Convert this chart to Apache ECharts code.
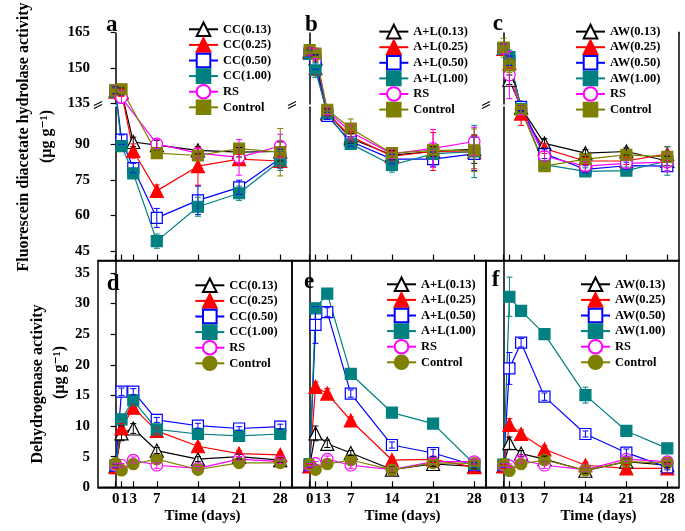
<!DOCTYPE html>
<html><head><meta charset="utf-8">
<script src="https://cdn.jsdelivr.net/npm/echarts@6/dist/echarts.min.js"></script>
<style>html,body{margin:0;padding:0;background:#fff}#c{width:685px;height:531px}</style>
</head><body><div id="c"></div><script>
// ---------- DATA ----------
const days = [0, 1, 3, 7, 14, 21, 28];
const xTicks = [0, 1, 3, 7, 14, 21, 28];
const fdaTicks = [45, 60, 75, 90, 135, 150, 165];
const dhaTicks = [0, 5, 10, 15, 20, 25, 30, 35];

const ccNames = ['CC(0.13)', 'CC(0.25)', 'CC(0.50)', 'CC(1.00)', 'RS', 'Control'];
const alNames = ['A+L(0.13)', 'A+L(0.25)', 'A+L(0.50)', 'A+L(1.00)', 'RS', 'Control'];
const awNames = ['AW(0.13)', 'AW(0.25)', 'AW(0.50)', 'AW(1.00)', 'RS', 'Control'];

// (a) FDA, CC
const fdaCC013 = [140.5, 140, 91, 89.7, 87.5, 86.7, 87];
const fdaCC025 = [140, 139.5, 87.2, 70.4, 80.8, 83.8, 83];
const fdaCC050 = [140.5, 92, 80, 59, 66.4, 71.9, 84];
const fdaCC100 = [140, 89.3, 77.8, 49.2, 63.7, 69.4, 83];
const fdaCCRS = [140.5, 137.5, null, 90.2, 86.3, 84.5, 89.3];
const fdaCCCtrl = [140.5, 141, null, 86.3, 85.3, 88.2, 86.7];
const fdaCC013Err = [1.5, 1.5, 2, 2, 1.5, 2, 4];
const fdaCC025Err = [1.5, 1.5, 3, 2.5, 8, 2, 2];
const fdaCC050Err = [1.5, 2, 2, 4, 6, 3, 4];
const fdaCC100Err = [1.5, 2, 2, 3, 4, 3, 4];
const fdaCCRSErr = [2, 3, 0, 2, 2, 7.5, 5];
const fdaCCCtrlErr = [2, 2, 0, 1.5, 2, 2, 10];

// (b) FDA, A+L
const fdaAL013 = [157, 154, 103.5, 92.5, 85.5, 87, 88];
const fdaAL025 = [156.5, 150, 103, 93.4, 85, 87, 86.7];
const fdaAL050 = [156, 152.4, 102, 91.2, 83.8, 83.8, 86];
const fdaAL100 = [156, 149, 103, 90.2, 81.3, 86, 87];
const fdaALRS = [157, 156, 104, 95.2, 86, 88.3, 91.2];
const fdaALCtrl = [157.5, 156, 104.6, 96.7, 86.3, 87.5, 87.5];
const fdaAL013Err = [1.5, 1.5, 1.5, 2, 2, 2, 6];
const fdaAL025Err = [1.5, 3, 1.5, 2, 2, 8, 7];
const fdaAL050Err = [1.5, 3, 1.5, 2, 2, 3, 7];
const fdaAL100Err = [1.5, 3, 1.5, 2, 3, 2, 11];
const fdaALRSErr = [1.5, 2, 1.5, 3, 2, 8, 6];
const fdaALCtrlErr = [1.5, 1.5, 1.5, 4, 2, 2, 9];

// (c) FDA, AW
const fdaAW013 = [158, 145, 105.5, 90.4, 86.3, 87, 83];
const fdaAW025 = [158, 152, 103, 88.2, 83, 83, 86];
const fdaAW050 = [158, 153, 105.8, 86, 79.5, 81, 80.8];
const fdaAW100 = [158, 154.5, 105, 81.5, 78.6, 78.9, 83];
const fdaAWRS = [158, 147, 104.5, 85, 80.8, 82, 82.5];
const fdaAWCtrl = [158.5, 151, 104.6, 80.8, 83.8, 85.6, 84.7];
const fdaAW013Err = [2, 2, 1.5, 2, 1.5, 1.5, 2];
const fdaAW025Err = [2, 2, 5, 2, 1.5, 1.5, 3];
const fdaAW050Err = [2, 2, 1.5, 2, 1.5, 1.5, 2];
const fdaAW100Err = [2, 3, 1.5, 1.5, 1.5, 1.5, 6];
const fdaAWRSErr = [2, 10, 2, 2, 2, 2, 4];
const fdaAWCtrlErr = [4, 3, 1.5, 1.5, 1.5, 1.5, 2];

// (d) DHA, CC
const dhaCC013 = [3.5, 8.8, 9.6, 6.0, 4.6, 5.0, 4.45];
const dhaCC025 = [3.3, 9.6, 13.0, 9.2, 6.7, 5.5, 5.3];
const dhaCC050 = [3.5, 15.6, 15.6, 11.0, 10.05, 9.6, 9.9];
const dhaCC100 = [3.6, 11.1, 14.2, 9.45, 8.7, 8.4, 8.7];
const dhaCCRS = [3.6, 3.6, 4.45, 3.6, 3.1, 4.6, 4.2];
const dhaCCCtrl = [3.9, 2.8, 3.8, 4.6, 2.9, 4.0, 4.0];
const dhaCC013Err = [0.3, 1.2, 0.8, 0.5, 0.4, 0.4, 0.4];
const dhaCC025Err = [0.3, 0.8, 0.6, 0.5, 0.5, 0.5, 0.5];
const dhaCC050Err = [0.3, 0.6, 0.5, 0.4, 0.4, 0.3, 0.4];
const dhaCC100Err = [0.3, 0.5, 0.6, 0.4, 0.3, 0.3, 0.3];
const dhaCCRSErr = [0.3, 0.3, 0.5, 0.5, 0.3, 0.4, 0.3];
const dhaCCCtrlErr = [0.3, 0.3, 0.4, 0.4, 0.3, 0.3, 0.3];

// (e) DHA, A+L
const dhaAL013 = [3.5, 8.8, 7.1, 5.6, 2.9, 3.8, 3.4];
const dhaAL025 = [3.4, 16.4, 15.3, 10.9, 4.45, 4.55, 3.3];
const dhaAL050 = [3.6, 26.5, 28.6, 15.3, 6.9, 5.6, 3.6];
const dhaAL100 = [3.8, 29.2, 31.6, 18.5, 12.2, 10.4, 3.8];
const dhaALRS = [3.6, 3.9, 4.6, 3.6, 2.9, 4.2, 4.2];
const dhaALCtrl = [3.8, 2.9, 3.8, 4.45, 2.85, 4.0, 3.9];
const dhaAL013Err = [0.3, 1.2, 0.6, 0.4, 0.4, 0.4, 0.4];
const dhaAL025Err = [0.3, 0.8, 0.8, 0.6, 0.5, 0.5, 1.0];
const dhaAL050Err = [0.3, 3.0, 0.7, 0.6, 0.5, 0.6, 0.4];
const dhaAL100Err = [0.3, 0.6, 0.5, 0.4, 0.4, 0.4, 0.5];
const dhaALRSErr = [0.3, 0.3, 0.5, 0.5, 0.3, 0.5, 0.4];
const dhaALCtrlErr = [0.3, 0.3, 0.4, 0.4, 0.3, 0.3, 0.4];

// (f) DHA, AW
const dhaAW013 = [3.5, 7.2, 5.5, 4.6, 2.7, 4.2, 3.6];
const dhaAW025 = [3.4, 10.2, 8.7, 6.2, 3.6, 3.1, 3.1];
const dhaAW050 = [3.6, 19.4, 23.6, 14.8, 8.7, 5.65, 3.25];
const dhaAW100 = [3.7, 31.1, 28.8, 25.0, 15.05, 9.2, 6.35];
const dhaAWRS = [3.6, 3.5, 4.45, 3.6, 2.9, 4.6, 4.2];
const dhaAWCtrl = [3.8, 2.7, 3.8, 4.45, 2.8, 4.2, 4.0];
const dhaAW013Err = [0.3, 1.0, 0.5, 0.5, 0.4, 0.4, 0.4];
const dhaAW025Err = [0.3, 1.0, 0.7, 0.6, 0.5, 0.6, 0.8];
const dhaAW050Err = [0.3, 2.6, 0.7, 0.6, 0.5, 0.6, 0.4];
const dhaAW100Err = [0.3, 3.2, 0.7, 0.4, 1.3, 0.4, 0.4];
const dhaAWRSErr = [0.3, 0.3, 0.5, 0.5, 0.3, 0.4, 0.4];
const dhaAWCtrlErr = [0.3, 0.3, 0.4, 0.4, 0.3, 0.3, 0.4];

// ---------- LAYOUT / STYLE ----------
const SERIF = '"Liberation Serif","Times New Roman","DejaVu Serif",serif';
const colLeft = [98, 292, 486], colWidth = [194, 194, 193];
const rowTop = [32.3, 260.6], rowHeight = [228.3, 226.7];

const markStyles = [
  { color: '#000000', symbol: 'triangle', size: 13, open: true },
  { color: '#ff0000', symbol: 'triangle', size: 13, open: false },
  { color: '#0000ff', symbol: 'rect', size: 11, open: true },
  { color: '#008080', symbol: 'rect', size: 11, open: false },
  { color: '#ff00ff', symbol: 'circle', size: 11, open: true },
  { color: '#808000', symbol: 'rect', size: 11, open: false }
];

const panels = [
  { key: 'a', row: 0, col: 0, names: ccNames,
    vals: [fdaCC013, fdaCC025, fdaCC050, fdaCC100, fdaCCRS, fdaCCCtrl],
    errs: [fdaCC013Err, fdaCC025Err, fdaCC050Err, fdaCC100Err, fdaCCRSErr, fdaCCCtrlErr],
    legend: [188, 21.5], letter: [106, 26] },
  { key: 'b', row: 0, col: 1, names: alNames,
    vals: [fdaAL013, fdaAL025, fdaAL050, fdaAL100, fdaALRS, fdaALCtrl],
    errs: [fdaAL013Err, fdaAL025Err, fdaAL050Err, fdaAL100Err, fdaALRSErr, fdaALCtrlErr],
    legend: [378.3, 23.8], letter: [305, 26] },
  { key: 'c', row: 0, col: 2, names: awNames,
    vals: [fdaAW013, fdaAW025, fdaAW050, fdaAW100, fdaAWRS, fdaAWCtrl],
    errs: [fdaAW013Err, fdaAW025Err, fdaAW050Err, fdaAW100Err, fdaAWRSErr, fdaAWCtrlErr],
    legend: [575, 23.8], letter: [492.7, 25] },
  { key: 'd', row: 1, col: 0, names: ccNames,
    vals: [dhaCC013, dhaCC025, dhaCC050, dhaCC100, dhaCCRS, dhaCCCtrl],
    errs: [dhaCC013Err, dhaCC025Err, dhaCC050Err, dhaCC100Err, dhaCCRSErr, dhaCCCtrlErr],
    legend: [194.3, 277.5], letter: [106.7, 285], titlePad: 15 },
  { key: 'e', row: 1, col: 1, names: alNames,
    vals: [dhaAL013, dhaAL025, dhaAL050, dhaAL100, dhaALRS, dhaALCtrl],
    errs: [dhaAL013Err, dhaAL025Err, dhaAL050Err, dhaAL100Err, dhaALRSErr, dhaALCtrlErr],
    legend: [386, 276.5], letter: [304, 283], titlePad: 27 },
  { key: 'f', row: 1, col: 2, names: awNames,
    vals: [dhaAW013, dhaAW025, dhaAW050, dhaAW100, dhaAWRS, dhaAWCtrl],
    errs: [dhaAW013Err, dhaAW025Err, dhaAW050Err, dhaAW100Err, dhaAWRSErr, dhaAWCtrlErr],
    legend: [580, 276.5], letter: [491.7, 281], titlePad: 32 }
];

function renderErr(params, api) {
  const x = api.value(0), y = api.value(1), e = api.value(2);
  if (!e) return null;
  const hi = api.coord([x, y + e]), lo = api.coord([x, y - e]);
  const w = 3;
  const style = { stroke: api.visual('color'), lineWidth: 1, fill: null };
  return { type: 'group', children: [
    { type: 'line', shape: { x1: hi[0], y1: hi[1], x2: lo[0], y2: lo[1] }, style },
    { type: 'line', shape: { x1: hi[0] - w, y1: hi[1], x2: hi[0] + w, y2: hi[1] }, style },
    { type: 'line', shape: { x1: lo[0] - w, y1: lo[1], x2: lo[0] + w, y2: lo[1] }, style }
  ] };
}

const labelFont = { color: '#000', fontFamily: SERIF, fontWeight: 'bold', fontSize: 15 };
const grids = [], xAxes = [], yAxes = [], series = [], legends = [], graphics = [];

panels.forEach((p, i) => {
  const top = p.row === 0;
  grids.push({ left: colLeft[p.col], top: rowTop[p.row], width: colWidth[p.col], height: rowHeight[p.row],
    show: !top, borderColor: '#000', borderWidth: 1.5, backgroundColor: 'transparent',
    containLabel: false, outerBoundsMode: 'none' });
  xAxes.push({
    type: 'value', gridIndex: i, min: -3, max: 30, position: 'bottom',
    axisLine: { show: true, onZero: false, lineStyle: { color: '#000', width: 1.5 } },
    axisTick: { show: true, inside: true, length: 6, customValues: xTicks, lineStyle: { color: '#000', width: 1.2 } },
    axisLabel: Object.assign({ show: !top, customValues: xTicks, margin: 4, hideOverlap: false,
      formatter: v => v === 1 ? '{r|1}' : String(v),
      rich: { r: Object.assign({ padding: [0, 0, 0, 6] }, labelFont) } }, labelFont),
    splitLine: { show: false },
    name: top ? '' : 'Time (days)', nameLocation: 'middle', nameGap: 21,
    nameTextStyle: Object.assign({ padding: [0, 0, 0, p.titlePad || 0] }, labelFont)
  });
  if (top) {
    yAxes.push({
      type: 'value', gridIndex: i, min: 41, max: 165,
      breaks: [{ start: 106, end: 135, gap: '1.3%' }],
      breakArea: { show: false },
      axisLine: { show: true, lineStyle: { color: '#000', width: 1.5 } },
      axisTick: { show: p.col === 0, inside: false, length: 5, customValues: fdaTicks, lineStyle: { color: '#000', width: 1.2 } },
      axisLabel: Object.assign({ show: p.col === 0, customValues: fdaTicks, margin: 8 }, labelFont),
      splitLine: { show: false }
    });
  } else {
    yAxes.push({
      type: 'value', gridIndex: i, min: 0, max: 37,
      axisLine: { show: true, lineStyle: { color: '#000', width: 1.5 } },
      axisTick: { show: p.col === 0, inside: false, length: 5, customValues: dhaTicks, lineStyle: { color: '#000', width: 1.2 } },
      axisLabel: Object.assign({ show: p.col === 0, customValues: dhaTicks, margin: 8 }, labelFont),
      splitLine: { show: false }
    });
  }
  const legendNames = [];
  p.names.forEach((nm, k) => {
    const st = markStyles[k];
    const sym = (k === 5 && !top) ? 'circle' : st.symbol;
    const full = nm + '#' + p.key;
    legendNames.push(full);
    const pts = [], errPts = [];
    p.vals[k].forEach((v, j) => {
      if (v === null) return;
      pts.push([days[j], v]);
      errPts.push([days[j], v, p.errs[k][j]]);
    });
    series.push({
      type: 'line', name: full, xAxisIndex: i, yAxisIndex: i, z: 3,
      data: pts, symbol: sym, symbolSize: sym === 'triangle' ? st.size : (sym === 'circle' ? 11.5 : st.size),
      showSymbol: true, showAllSymbol: true, connectNulls: true,
      itemStyle: { color: st.open ? '#ffffff' : st.color, borderColor: st.color, borderWidth: 1.2, opacity: 1 },
      lineStyle: { color: st.color, width: 1.2 },
      animation: false, silent: true, emphasis: { disabled: true }
    });
    series.push({
      type: 'custom', name: 'err' + p.key + k, xAxisIndex: i, yAxisIndex: i, z: 4,
      data: errPts, renderItem: renderErr, encode: { x: 0, y: 1 },
      itemStyle: { color: st.color }, animation: false, silent: true
    });
  });
  legends.push({
    data: legendNames, left: p.legend[0], top: p.legend[1], orient: 'vertical',
    itemWidth: 29, itemHeight: 17, itemGap: 0, padding: 0, selectedMode: false,
    formatter: n => n.split('#')[0],
    textStyle: { color: '#000', fontFamily: SERIF, fontWeight: 'bold', fontSize: 12.5 }
  });
  graphics.push({ type: 'text', left: p.letter[0], top: p.letter[1] - 12,
    style: { text: p.key, font: 'bold 23px ' + SERIF, fill: '#000' } });
});

// right frame line for panel c (top row)
yAxes.push({ type: 'value', gridIndex: 2, position: 'right', min: 0, max: 1,
  axisLine: { show: true, lineStyle: { color: '#000', width: 1.5 } },
  axisTick: { show: false }, axisLabel: { show: false }, splitLine: { show: false } });

// axis-break marks
const breakY = 105;
[98, 292, 486].forEach(x => {
  graphics.push({ type: 'polygon', z: 100, shape: { points: [[x - 4, breakY + 0.5], [x + 4, breakY - 3.5], [x + 4, breakY - 0.5], [x - 4, breakY + 3.5]] },
    style: { fill: '#fff', stroke: null } });
  graphics.push({ type: 'line', z: 101, shape: { x1: x - 4, y1: breakY + 0.5, x2: x + 4, y2: breakY - 3.5 }, style: { stroke: '#000', lineWidth: 1.2 } });
  graphics.push({ type: 'line', z: 101, shape: { x1: x - 4, y1: breakY + 3.5, x2: x + 4, y2: breakY - 0.5 }, style: { stroke: '#000', lineWidth: 1.2 } });
});

// y-axis titles
const titleFont = 'bold 16px ' + SERIF;
graphics.push({ type: 'text', x: 23.5, y: 137, rotation: Math.PI / 2,
  style: { text: 'Fluorescein diacetate hydrolase activity', font: titleFont, fill: '#000', align: 'center', verticalAlign: 'middle' } });
graphics.push({ type: 'text', x: 46.5, y: 136.5, rotation: Math.PI / 2,
  style: { text: '(\u03bcg g\u207b\u00b9)', font: titleFont, fill: '#000', align: 'center', verticalAlign: 'middle' } });
graphics.push({ type: 'text', x: 37.5, y: 384, rotation: Math.PI / 2,
  style: { text: 'Dehydrogenase activity', font: titleFont, fill: '#000', align: 'center', verticalAlign: 'middle' } });
graphics.push({ type: 'text', x: 60, y: 372.5, rotation: Math.PI / 2,
  style: { text: '(\u03bcg g\u207b\u00b9)', font: titleFont, fill: '#000', align: 'center', verticalAlign: 'middle' } });

const chart = echarts.init(document.getElementById('c'), null, { renderer: 'canvas' });
chart.setOption({
  animation: false,
  backgroundColor: '#fff',
  textStyle: { fontFamily: SERIF },
  grid: grids, xAxis: xAxes, yAxis: yAxes, legend: legends,
  series: series, graphic: graphics
});
</script></body></html>
